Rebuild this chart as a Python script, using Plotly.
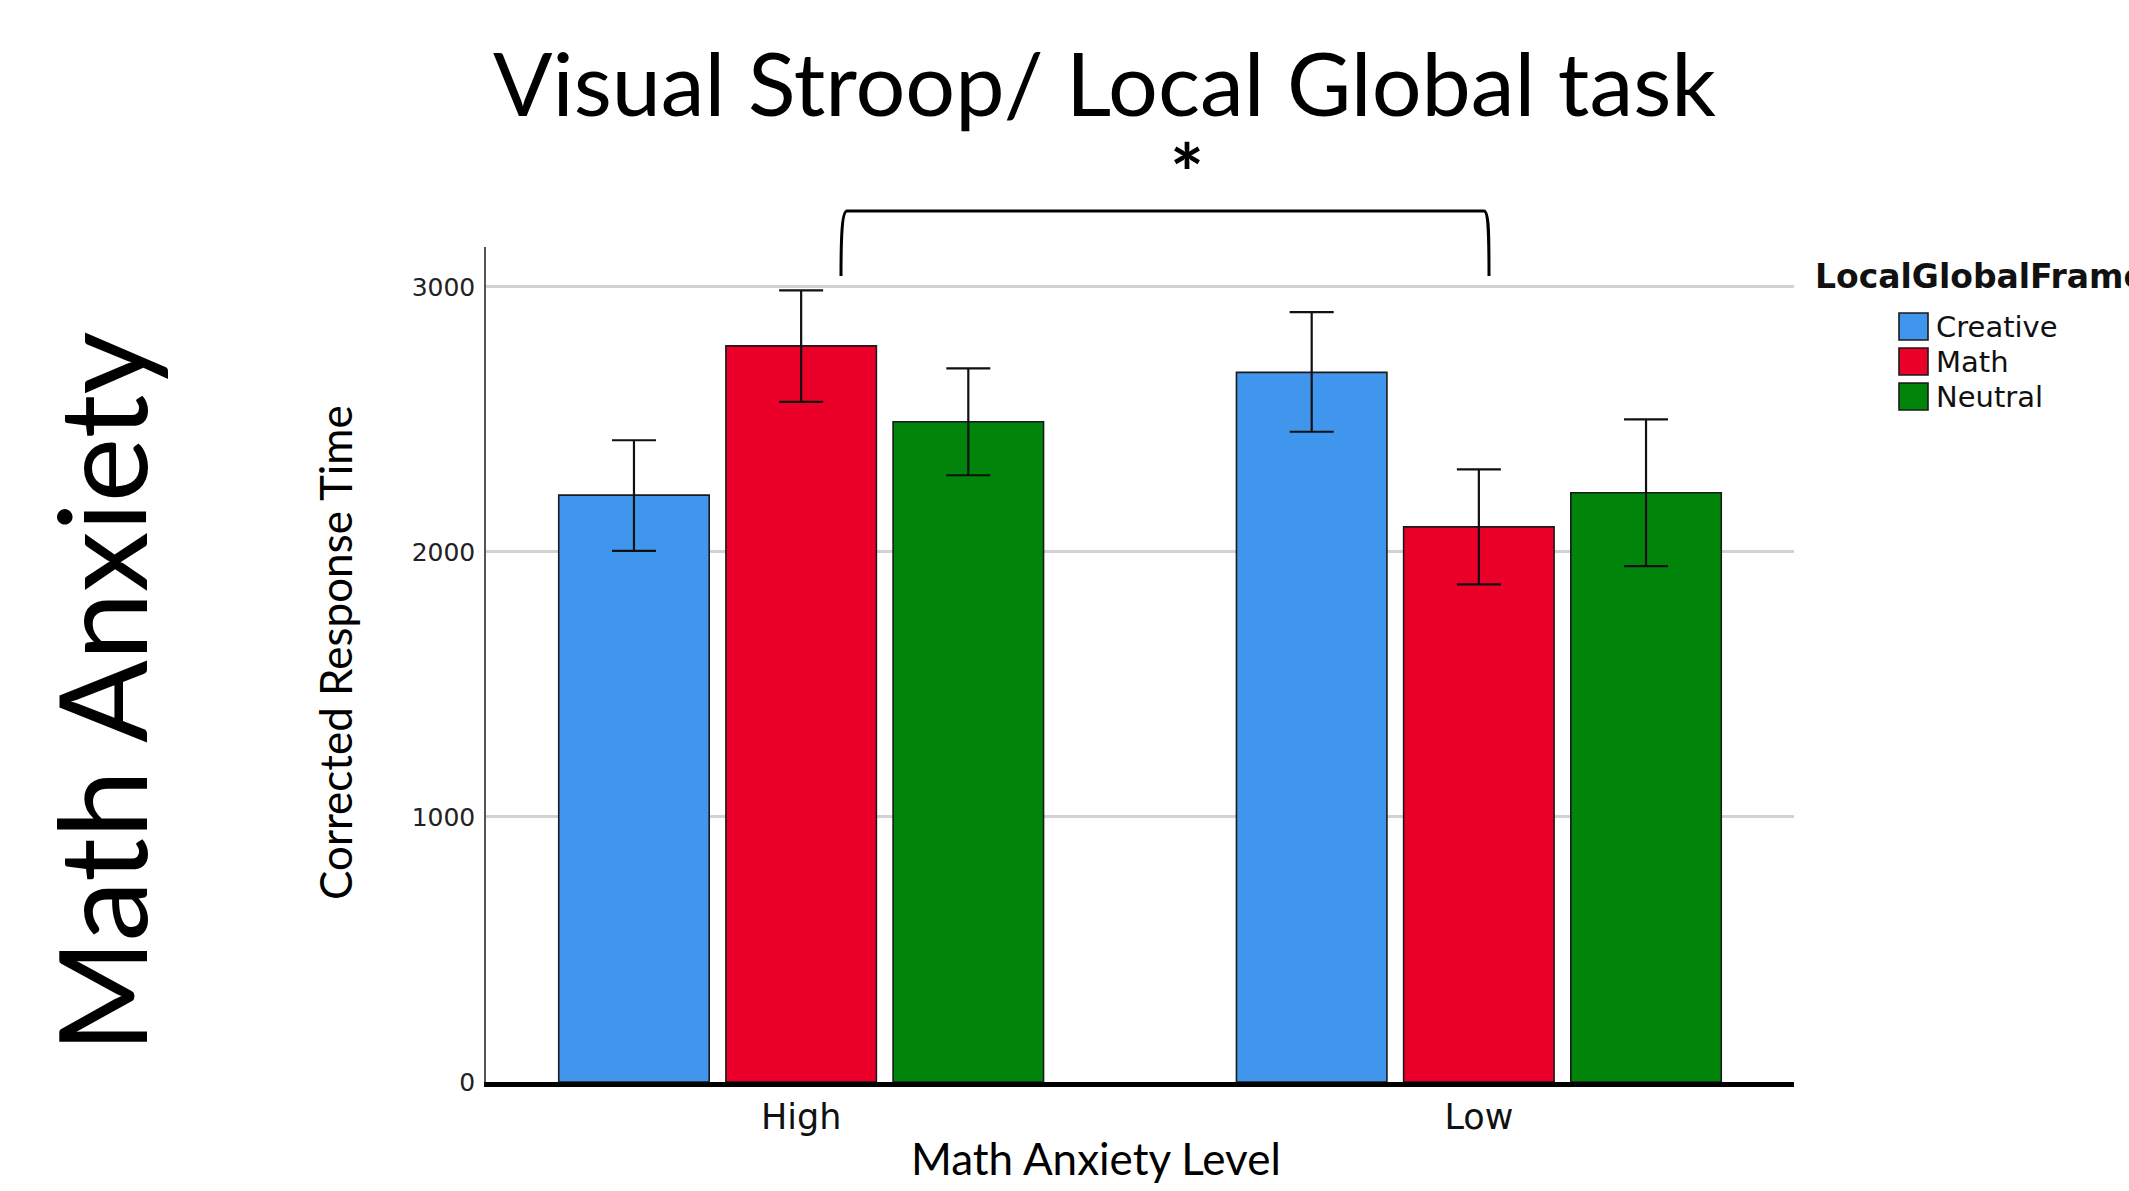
import plotly.graph_objects as go

# ---------------- data ----------------
categories = ["High", "Low"]
series_names = ["Creative", "Math", "Neutral"]
series_colors = ["#4096ED", "#EA0029", "#00850A"]

creative_mean = [2214, 2677]
math_mean = [2777, 2094]
neutral_mean = [2491, 2223]

creative_ci_hi = [2421, 2904]
creative_ci_lo = [2004, 2453]
math_ci_hi = [2986, 2311]
math_ci_lo = [2566, 1877]
neutral_ci_hi = [2692, 2500]
neutral_ci_lo = [2289, 1946]

y_ticks = [0, 1000, 2000, 3000]

# ---------------- layout geometry (pixels) ----------------
W, H = 2129, 1191
PL, PR, PT, PB = 486, 1794, 247, 1082


def px(x):
    return (x - PL) / (PR - PL)


def py(y):
    return (PB - y) / (PB - PT)


means = [creative_mean, math_mean, neutral_mean]
his = [creative_ci_hi, math_ci_hi, neutral_ci_hi]
los = [creative_ci_lo, math_ci_lo, neutral_ci_lo]

fig = go.Figure()
for name, color, m, hi, lo in zip(series_names, series_colors, means, his, los):
    fig.add_trace(go.Bar(
        x=categories, y=m, name=name,
        marker=dict(color=color, line=dict(color="#1a1a1a", width=1.6)),
        error_y=dict(type="data", symmetric=False,
                     array=[h - v for h, v in zip(hi, m)],
                     arrayminus=[v - l for v, l in zip(m, lo)],
                     color="#111111", thickness=2.2, width=22),
        showlegend=False,
    ))

fig.update_layout(
    width=W, height=H,
    margin=dict(l=PL, r=W - PR, t=PT, b=H - PB, pad=0),
    paper_bgcolor="white", plot_bgcolor="white",
    barmode="group", bargap=0.26, bargroupgap=0.10,
    font=dict(family="DejaVu Sans", color="#111"),
    xaxis=dict(
        range=[-0.465, 1.465], showgrid=False, zeroline=False,
        showline=True, linecolor="black", linewidth=5,
        ticks="", tickfont=dict(family="DejaVu Sans", size=35, color="#111"),
    ),
    yaxis=dict(
        range=[0, 3150], tickvals=y_ticks, ticktext=[str(v) for v in y_ticks],
        showgrid=True, gridcolor="#d2d2d2", gridwidth=2.5,
        zeroline=False, showline=True, linecolor="#555", linewidth=1.5,
        ticks="", ticklabelstandoff=4,
        tickfont=dict(family="DejaVu Sans", size=25, color="#222"),
    ),
)

ann = []
# main title
ann.append(dict(text="Visual Stroop/ Local Global task", x=px(1104), y=py(82),
                xref="paper", yref="paper", showarrow=False,
                xanchor="center", yanchor="middle",
                font=dict(family="Lato", size=88, color="black")))
# asterisk
ann.append(dict(text="<b>*</b>", x=px(1187), y=py(172),
                xref="paper", yref="paper", showarrow=False,
                xanchor="center", yanchor="middle",
                font=dict(family="Lato", size=80, color="black")))
# left big label
ann.append(dict(text="Math Anxiety", x=px(100), y=py(692), textangle=-90,
                xref="paper", yref="paper", showarrow=False,
                xanchor="center", yanchor="middle",
                font=dict(family="Lato", size=122, color="black")))
# y axis title
ann.append(dict(text="Corrected Response Time", x=px(335), y=py(653), textangle=-90,
                xref="paper", yref="paper", showarrow=False,
                xanchor="center", yanchor="middle",
                font=dict(family="Lato", size=44, color="black")))
# x axis title
ann.append(dict(text="Math Anxiety Level", x=px(1096), y=py(1158),
                xref="paper", yref="paper", showarrow=False,
                xanchor="center", yanchor="middle",
                font=dict(family="Lato", size=44, color="black")))
# legend title
ann.append(dict(text="<b>LocalGlobalFrame</b>", x=px(1813), y=py(277),
                xref="paper", yref="paper", showarrow=False,
                xanchor="left", yanchor="middle",
                font=dict(family="DejaVu Sans", size=33, color="#111")))

shapes = []
# legend items
for i, (name, color) in enumerate(zip(series_names, series_colors)):
    top = 313 + 35 * i
    shapes.append(dict(type="rect", xref="paper", yref="paper",
                       x0=px(1899), x1=px(1928), y0=py(top), y1=py(top + 27),
                       fillcolor=color, line=dict(color="#1a1a1a", width=1.6)))
    ann.append(dict(text=name, x=px(1934), y=py(top + 14),
                    xref="paper", yref="paper", showarrow=False,
                    xanchor="left", yanchor="middle",
                    font=dict(family="DejaVu Sans", size=29, color="#111")))

# significance bracket
pts = [(841, 276), (841, 236), (842, 211), (847, 211), (1484, 211),
       (1489, 211), (1489, 236), (1489, 276)]
P = [(px(a), py(b)) for a, b in pts]
path = (f"M {P[0][0]},{P[0][1]} C {P[1][0]},{P[1][1]} {P[2][0]},{P[2][1]} {P[3][0]},{P[3][1]} "
        f"L {P[4][0]},{P[4][1]} C {P[5][0]},{P[5][1]} {P[6][0]},{P[6][1]} {P[7][0]},{P[7][1]}")
shapes.append(dict(type="path", xref="paper", yref="paper", path=path,
                   line=dict(color="black", width=3)))

fig.update_layout(annotations=ann, shapes=shapes)

fig.write_html("out.html", config={"displayModeBar": False},
               post_script="document.body.style.margin='0';document.body.style.overflow='hidden';")
